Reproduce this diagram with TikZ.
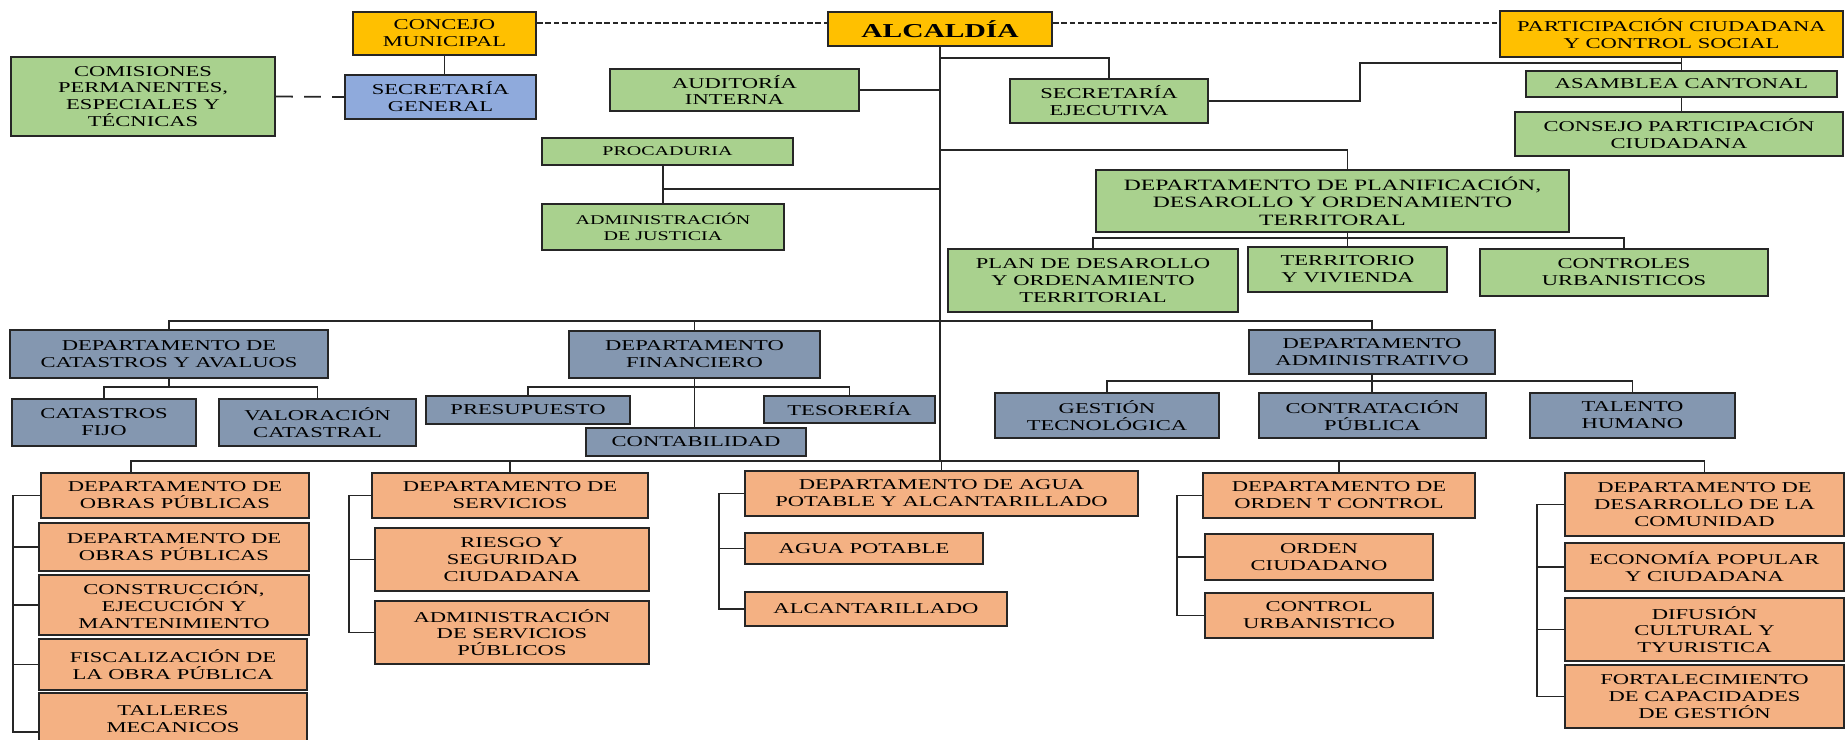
\documentclass[tikz,border=0pt]{standalone}
\usepackage{fontspec}
\setmainfont[FakeStretch=1.5]{Liberation Serif}
\usepackage{tikz}
\usetikzlibrary{calc}

\definecolor{amar}{HTML}{FFC000}
\definecolor{verde}{HTML}{A9D18E}
\definecolor{azul}{HTML}{8FAADC}
\definecolor{pizarra}{HTML}{8497B0}
\definecolor{naranja}{HTML}{F4B183}

\tikzset{
  caja/.style={draw=black!85, line width=1.3pt, inner sep=0pt, align=center,
    font=\fontsize{10.7}{12}\selectfont},
  tam/.style 2 args={minimum width=#1*0.025cm, minimum height=#2*0.025cm},
  cY/.style={caja, fill=amar},
  cG/.style={caja, fill=verde},
  cB/.style={caja, fill=azul},
  cS/.style={caja, fill=pizarra},
  cO/.style={caja, fill=naranja},
  linea/.style={draw=black!85, line width=1.25pt},
  punteada/.style={linea, line width=1pt, dash pattern=on 4pt off 2pt},
  rayada/.style={linea, dash pattern=on 12pt off 8pt},
}

\begin{document}
\begin{tikzpicture}[x=0.025cm, y=-0.025cm]
%
\useasboundingbox (0,0) rectangle (1845,739);
%
% nivel superior
\node[cY, tam={183}{43}] (conc) at (444.5,33.5) {CONCEJO\\MUNICIPAL};
\node[cY, tam={224}{34}, font=\fontsize{14}{16}\selectfont\bfseries] (alc) at (940,29) {ALCALDÍA};
\node[cY, tam={343}{46}] (part) at (1671.5,34) {PARTICIPACIÓN CIUDADANA\\Y CONTROL SOCIAL};
\node[cG, tam={264}{79}] (comi) at (143,96.5) {COMISIONES\\PERMANENTES,\\ESPECIALES Y\\TÉCNICAS};
\node[cB, tam={191}{44}] (secg) at (440.5,97) {SECRETARÍA\\GENERAL};
\node[cG, tam={249}{42}] (aud) at (734.5,90) {AUDITORÍA\\INTERNA};
\node[cG, tam={198}{44}] (sece) at (1109,101) {SECRETARÍA\\EJECUTIVA};
\node[cG, tam={311}{26}] (asam) at (1681.5,84) {ASAMBLEA CANTONAL};
\node[cG, tam={328}{44}] (cpar) at (1679,134) {CONSEJO PARTICIPACIÓN\\CIUDADANA};
\node[cG, tam={251}{27}, font=\fontsize{9.5}{11}\selectfont] (proc) at (667.5,151.5) {PROCADURIA};
\node[cG, tam={242}{46}, font=\fontsize{9.5}{11}\selectfont] (just) at (663,227) {ADMINISTRACIÓN\\DE JUSTICIA};
\node[cG, tam={473}{62}, font=\fontsize{11.2}{12.5}\selectfont] (plan) at (1332.5,201) {DEPARTAMENTO DE PLANIFICACIÓN,\\DESAROLLO Y ORDENAMIENTO\\TERRITORAL};
\node[cG, tam={290}{63}] (pdot) at (1093,280.5) {PLAN DE DESAROLLO\\Y ORDENAMIENTO\\TERRITORIAL};
\node[cG, tam={199}{45}] (terr) at (1347.5,269.5) {TERRITORIO\\Y VIVIENDA};
\node[cG, tam={288}{47}] (ctrl) at (1624,272.5) {CONTROLES\\URBANISTICOS};
%
% departamentos de apoyo
\node[cS, tam={318}{48}] (cat) at (169,354) {DEPARTAMENTO DE\\CATASTROS Y AVALUOS};
\node[cS, tam={184}{47}] (cfij) at (104,422.5) {CATASTROS\\FIJO};
\node[cS, tam={197}{47}] (valo) at (317.5,422.5) {VALORACIÓN\\CATASTRAL};
\node[cS, tam={251}{47}] (fin) at (694.5,354.5) {DEPARTAMENTO\\FINANCIERO};
\node[cS, tam={204}{28}] (pres) at (528,410) {PRESUPUESTO};
\node[cS, tam={171}{27}] (teso) at (849.5,409.5) {TESORERÍA};
\node[cS, tam={220}{28}] (cont) at (696,442) {CONTABILIDAD};
\node[cS, tam={246}{44}] (adm) at (1372,352) {DEPARTAMENTO\\ADMINISTRATIVO};
\node[cS, tam={224}{45}] (gest) at (1107,415.5) {GESTIÓN\\TECNOLÓGICA};
\node[cS, tam={227}{45}] (ctra) at (1372.5,415.5) {CONTRATACIÓN\\PÚBLICA};
\node[cS, tam={205}{45}] (tale) at (1632.5,415.5) {TALENTO\\HUMANO};
%
% departamentos operativos
\node[cO, tam={268}{45}] (obr1) at (175,495.5) {DEPARTAMENTO DE\\OBRAS PÚBLICAS};
\node[cO, tam={270}{48}] (obr2) at (174,547) {DEPARTAMENTO DE\\OBRAS PÚBLICAS};
\node[cO, tam={270}{60}] (cons) at (174,605) {CONSTRUCCIÓN,\\EJECUCIÓN Y\\MANTENIMIENTO};
\node[cO, tam={268}{51}] (fisc) at (173,664.5) {FISCALIZACIÓN DE\\LA OBRA PÚBLICA};
\node[cO, tam={268}{52}] (tall) at (173,719) {TALLERES\\MECANICOS};
\node[cO, tam={276}{45}] (serv) at (510,495.5) {DEPARTAMENTO DE\\SERVICIOS};
\node[cO, tam={274}{63}] (ries) at (512,559.5) {RIESGO Y\\SEGURIDAD\\CIUDADANA};
\node[cO, tam={274}{63}] (adms) at (512,632.5) {ADMINISTRACIÓN\\DE SERVICIOS\\PÚBLICOS};
\node[cO, tam={393}{45}] (agua) at (941.5,493.5) {DEPARTAMENTO DE AGUA\\POTABLE Y ALCANTARILLADO};
\node[cO, tam={238}{31}] (apot) at (864,548.5) {AGUA POTABLE};
\node[cO, tam={262}{34}] (alca) at (876,609) {ALCANTARILLADO};
\node[cO, tam={272}{45}] (orde) at (1339,495.5) {DEPARTAMENTO DE\\ORDEN T CONTROL};
\node[cO, tam={228}{46}] (ociu) at (1319,557) {ORDEN\\CIUDADANO};
\node[cO, tam={228}{45}] (curb) at (1319,615.5) {CONTROL\\URBANISTICO};
\node[cO, tam={279}{63}] (desa) at (1704.5,504.5) {DEPARTAMENTO DE\\DESARROLLO DE LA\\COMUNIDAD};
\node[cO, tam={279}{48}] (econ) at (1704.5,567) {ECONOMÍA POPULAR\\Y CIUDADANA};
\node[cO, tam={279}{63}] (difu) at (1704.5,629.5) {DIFUSIÓN\\CULTURAL Y\\TYURISTICA};
\node[cO, tam={279}{63}] (fort) at (1704.5,696.5) {FORTALECIMIENTO\\DE CAPACIDADES\\DE GESTIÓN};
%
% niveles de las lineas
\coordinate (y23) at (0,23);
\coordinate (y58) at (0,58);
\coordinate (codo) at (1360,63);
\coordinate (y150) at (0,150);
\coordinate (y189) at (0,189);
\coordinate (y238) at (0,238);
\coordinate (y321) at (0,321);
\coordinate (y381) at (0,381);
\coordinate (y387) at (0,387);
\coordinate (ybus) at (0,461);
\coordinate (obx) at (131,461);
\coordinate (k1) at (13,0);
\coordinate (k2) at (349,0);
\coordinate (k3) at (719,0);
\coordinate (k4) at (1177,0);
\coordinate (k5) at (1537,0);
%
\draw[punteada] (conc.east |- y23) -- (alc.west |- y23);
\draw[punteada] (alc.east |- y23) -- (part.west |- y23);
\draw[rayada] (comi.east) -- (secg.west);
\draw[linea] (conc.south) -- (conc.south |- secg.north);
%
\draw[linea] (alc.south) -- (alc.south |- ybus);
\draw[linea] (aud.east) -- (alc.south |- aud.east);
\draw[linea] (alc.south |- y58) -| (sece.north);
\draw[linea] (sece.east) -| (codo) -- (codo -| asam.north);
\draw[linea] (asam.north |- part.south) -- (asam.north);
\draw[linea] (asam.south) -- (asam.south |- cpar.north);
%
\draw[linea] (just.north |- proc.south) -- (just.north);
\draw[linea] (alc.south |- y189) -- (just.north |- y189);
\draw[linea] (alc.south |- y150) -| (terr.north |- plan.north);
\draw[linea] (terr.north |- plan.south) -- (terr.north);
\draw[linea] (pdot.north) -- (pdot.north |- y238) -| (ctrl.north);
%
\draw[linea] (cat.north) -- (cat.north |- y321) -| (adm.north);
\draw[linea] (fin.north) -- (fin.north |- y321);
\draw[linea] (cat.south) -- (cat.south |- y387);
\draw[linea] (cfij.north) -- (cfij.north |- y387) -| (valo.north);
\draw[linea] (fin.south) -- (fin.south |- cont.north);
\draw[linea] (pres.north) -- (pres.north |- y387) -| (teso.north);
\draw[linea] (adm.south) -- (adm.south |- ctra.north);
\draw[linea] (gest.north) -- (gest.north |- y381) -| (tale.north);
%
\draw[linea] (obx |- obr1.north) -- (obx) -- (obx -| desa.north) -- (desa.north);
\foreach \n in {serv,agua,orde}
  \draw[linea] (\n.north) -- (\n.north |- ybus);
%
\draw[linea] (obr1.west) -- (obr1.west -| k1) |- ([yshift=-9pt]tall.west);
\foreach \n in {obr2,cons,fisc}
  \draw[linea] (\n.west) -- (\n.west -| k1);
\draw[linea] (serv.west) -- (serv.west -| k2) |- (adms.west);
\draw[linea] (ries.west) -- (ries.west -| k2);
\draw[linea] (agua.west) -- (agua.west -| k3) |- (alca.west);
\draw[linea] (apot.west) -- (apot.west -| k3);
\draw[linea] (orde.west) -- (orde.west -| k4) |- (curb.west);
\draw[linea] (ociu.west) -- (ociu.west -| k4);
\draw[linea] (desa.west) -- (desa.west -| k5) |- (fort.west);
\foreach \n in {econ,difu}
  \draw[linea] (\n.west) -- (\n.west -| k5);
%
\end{tikzpicture}
\end{document}
